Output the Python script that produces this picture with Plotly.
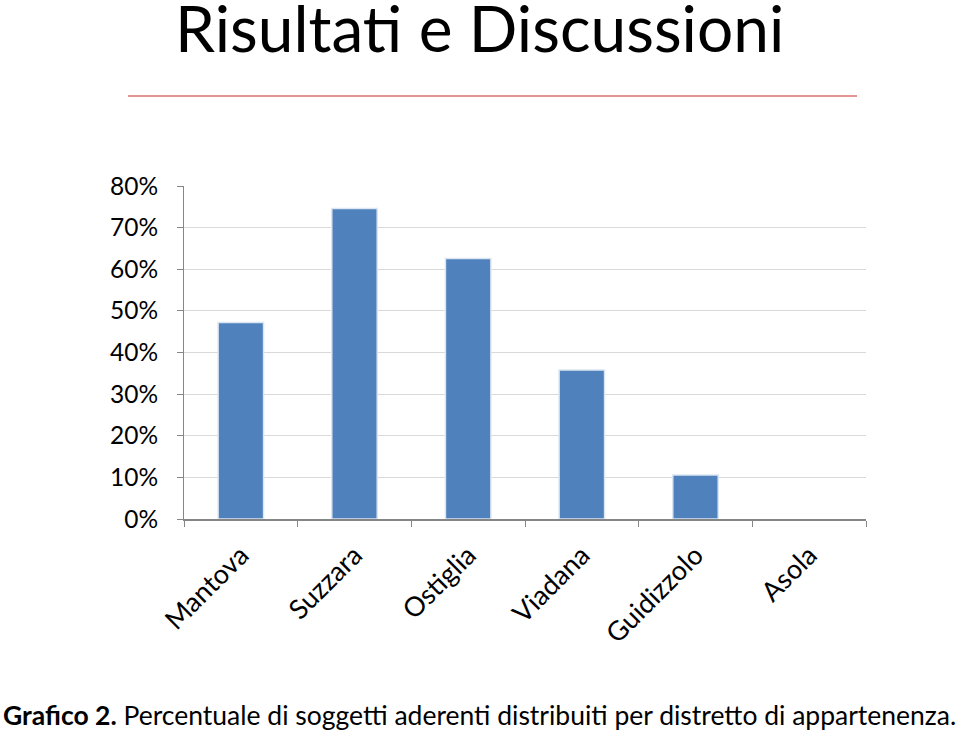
import plotly.graph_objects as go

categories = ["Mantova", "Suzzara", "Ostiglia", "Viadana", "Guidizzolo", "Asola"]
values = [0.472, 0.746, 0.626, 0.358, 0.106, 0.0]
y_ticks = [0, 0.1, 0.2, 0.3, 0.4, 0.5, 0.6, 0.7, 0.8]
y_ticklabels = ["0%", "10%", "20%", "30%", "40%", "50%", "60%", "70%", "80%"]
title_text = "Risultati e Discussioni"
caption_bold = "Grafico 2."
caption_rest = " Percentuale di soggetti aderenti distribuiti per distretto di appartenenza."

W, H = 959, 731
L, R, T, B = 184, 93, 186, 212
pw = W - L - R
ph = H - T - B

def px_x(x):
    return (x - L) / pw

def px_y(y):
    return (H - B - y) / ph

FONT = "Lato"

fig = go.Figure(go.Bar(
    x=categories, y=values,
    marker=dict(color="#4F81BD",
                line=dict(color="#DCE6F2", width=[0 if v == 0 else 1.5 for v in values])),
))

fig.update_layout(
    width=W, height=H,
    margin=dict(l=L, r=R, t=T, b=B),
    paper_bgcolor="white", plot_bgcolor="white",
    bargap=0.6,
    showlegend=False,
    font=dict(family=FONT, color="black"),
)
fig.update_yaxes(
    range=[0, 0.8], tickvals=y_ticks, ticktext=y_ticklabels,
    showgrid=True, gridcolor="#D9D9D9", gridwidth=1,
    showline=True, linecolor="#868686", linewidth=1,
    ticks="outside", ticklen=6, tickcolor="#868686",
    ticklabelstandoff=14,
    tickfont=dict(size=24.5, family=FONT), zeroline=False,
)
fig.update_xaxes(
    showline=True, linecolor="#868686", linewidth=1.5,
    ticks="outside", ticklen=6, tickcolor="#868686", tickson="boundaries",
    ticklabelstandoff=8,
    tickangle=-45, tickfont=dict(size=27, family=FONT),
)

fig.add_annotation(text=title_text, xref="paper", yref="paper",
                   x=px_x(479), y=px_y(27), xanchor="center", yanchor="middle",
                   showarrow=False, font=dict(size=64, family=FONT, color="black"))
fig.add_shape(type="line", xref="paper", yref="paper",
              x0=px_x(128), x1=px_x(857), y0=px_y(96), y1=px_y(96),
              line=dict(color="#D9726F", width=1.5))
fig.add_annotation(text="<b>" + caption_bold + "</b>" + caption_rest,
                   xref="paper", yref="paper",
                   x=px_x(479), y=px_y(715), xanchor="center", yanchor="middle",
                   showarrow=False, font=dict(size=26.5, family=FONT, color="black"))

fig.write_html("out.html")
